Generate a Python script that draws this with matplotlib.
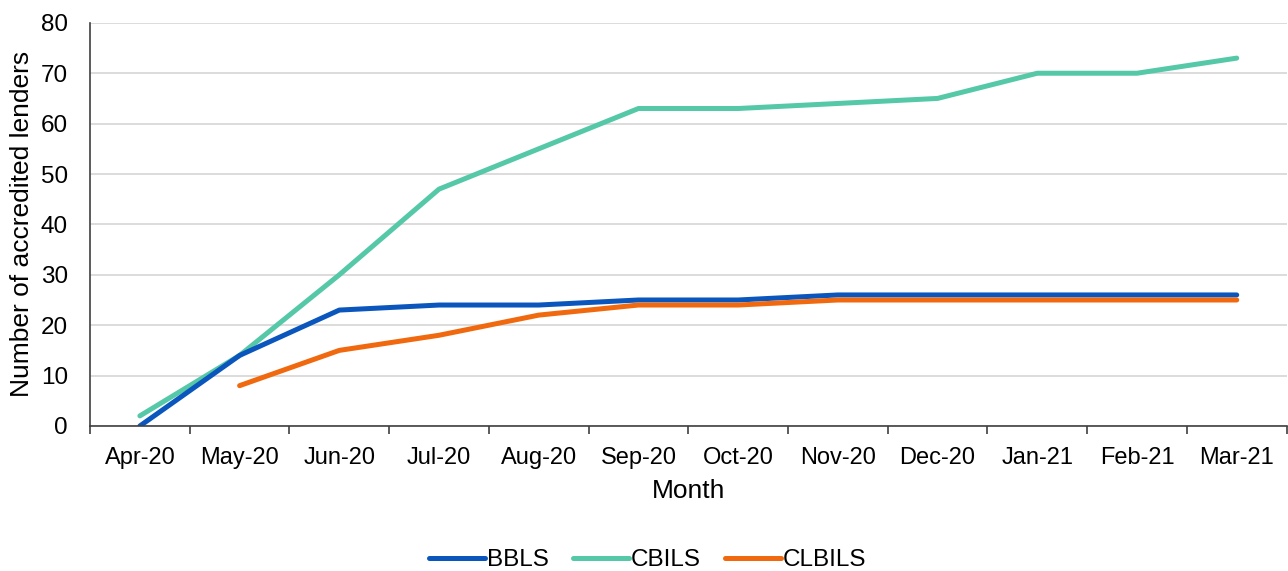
import numpy as np
import matplotlib
matplotlib.use('Agg')
import matplotlib.pyplot as plt

# --- Data ---
months = ['Apr-20', 'May-20', 'Jun-20', 'Jul-20', 'Aug-20', 'Sep-20',
          'Oct-20', 'Nov-20', 'Dec-20', 'Jan-21', 'Feb-21', 'Mar-21']
bbls = [0, 14, 23, 24, 24, 25, 25, 26, 26, 26, 26, 26]
cbils = [2, 14, 30, 47, 55, 63, 63, 64, 65, 70, 70, 73]
clbils = [np.nan, 8, 15, 18, 22, 24, 24, 25, 25, 25, 25, 25]

plt.rcParams['font.family'] = ['Liberation Sans', 'DejaVu Sans']

fig = plt.figure(figsize=(12.88, 5.71), dpi=100)
ax = fig.add_axes([0.0699, 0.254, 0.929, 0.706])

x = np.arange(len(months))
lw = 3.6
ax.plot(x, bbls, color='#0a56bd', lw=lw, solid_capstyle='round', label='BBLS', zorder=3)
ax.plot(x, cbils, color='#55c8a8', lw=lw, solid_capstyle='round', label='CBILS', zorder=2)
ax.plot(x, clbils, color='#f0690f', lw=lw, solid_capstyle='round', label='CLBILS', zorder=4)

ax.set_xlim(-0.5, len(months) - 0.5)
ax.set_ylim(0, 80)
ax.set_yticks(np.arange(0, 81, 10))
ax.set_xticks(x)
ax.set_xticklabels(months)
ax.set_xticks(np.arange(-0.5, len(months), 1), minor=True)
ax.tick_params(axis='x', which='major', length=0, pad=15, labelsize=17)
ax.tick_params(axis='x', which='minor', length=6, width=1.2, color='#404040')
ax.tick_params(axis='y', length=0, pad=16, labelsize=17.5)

ax.grid(axis='y', color='#d9d9d9', lw=1.3)
ax.set_axisbelow(True)
for s in ['top', 'right']:
    ax.spines[s].set_visible(False)
for s in ['left', 'bottom']:
    ax.spines[s].set_color('#404040')
    ax.spines[s].set_linewidth(1.2)
ax.spines['bottom'].set_zorder(5)

ax.set_xlabel('Month', fontsize=19, labelpad=7)
ax.set_ylabel('Number of accredited lenders', fontsize=19, labelpad=5)

ax.legend(loc='center', bbox_to_anchor=(0.466, -0.333), ncol=3, frameon=False,
          fontsize=17.5, handlelength=2.3, handletextpad=0.08, columnspacing=1.0)

fig.savefig('out.png', dpi=100)
